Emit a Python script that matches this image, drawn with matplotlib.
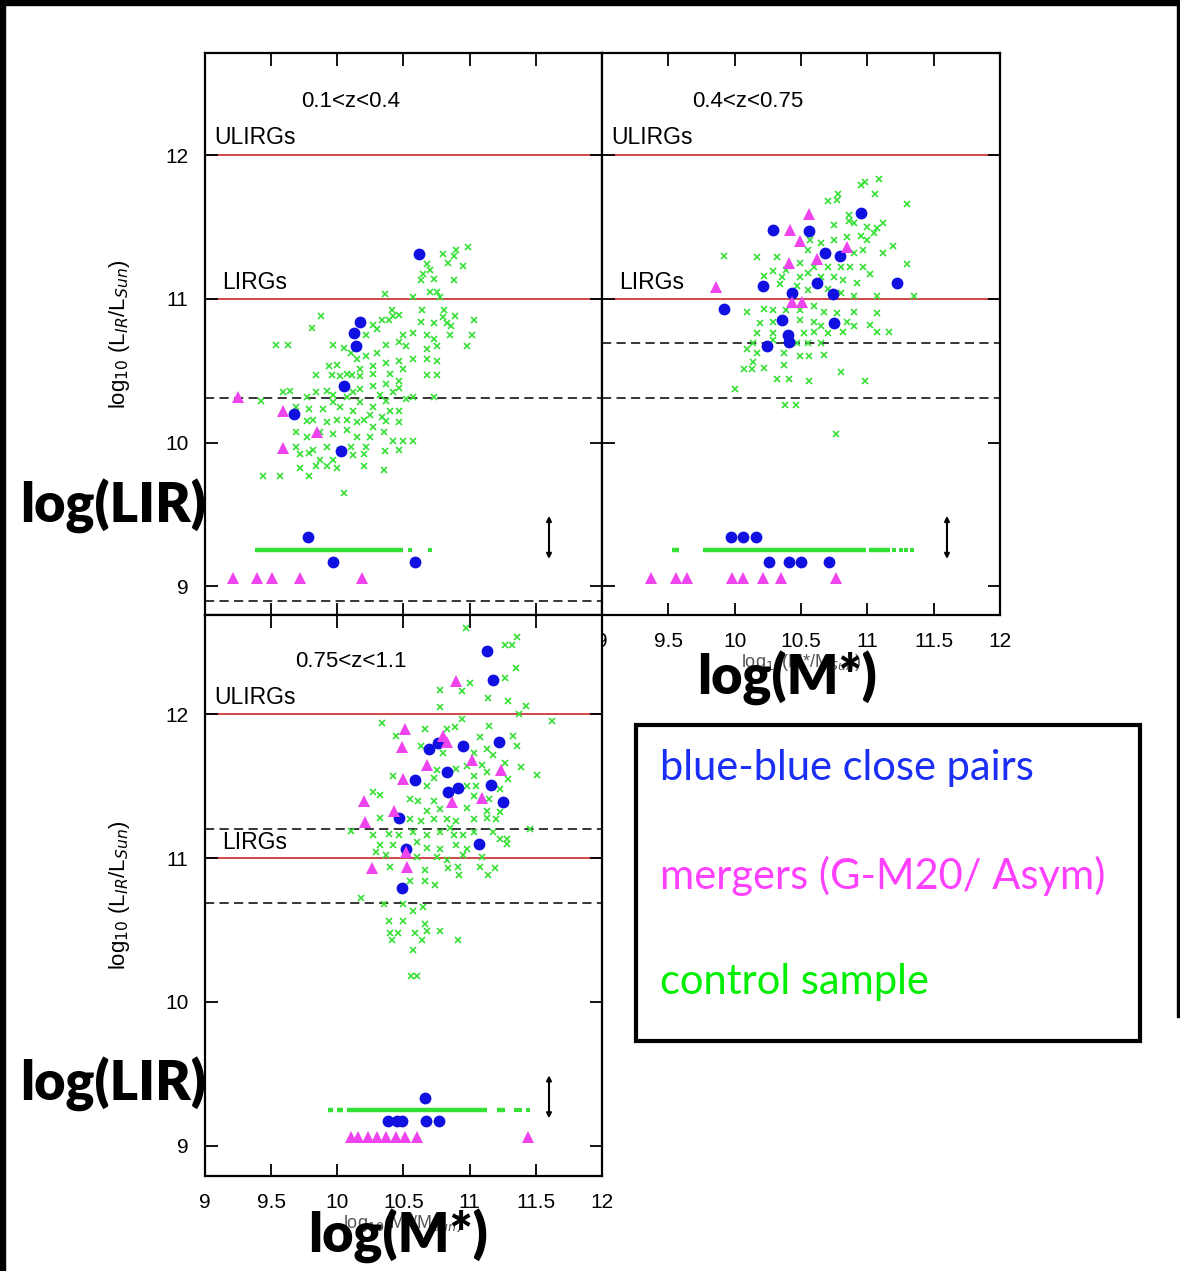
import matplotlib
matplotlib.use("Agg")
import matplotlib.pyplot as plt
from matplotlib.patches import Rectangle

plt.rcParams['font.family'] = ['Liberation Sans', 'DejaVu Sans']

GREEN = '#35e035'
BLUE = '#1010e0'
MAGENTA = '#ee44ee'
RED = '#d04848'

# ---- panel 1 : 0.1<z<0.4 ----
tl_green_x = [10.99, 10.90, 10.80, 10.88, 10.84, 10.95, 10.68, 10.70, 10.65, 10.63, 10.73, 10.88, 10.70, 10.75,
              10.78, 10.57, 10.36, 10.81, 10.64, 10.47, 10.41, 10.34, 10.27, 10.39, 10.42, 10.63, 10.73, 10.80,
              10.89, 11.03, 10.83, 10.86, 9.88, 9.81, 9.54, 9.63, 9.97, 10.05, 10.10, 10.22, 10.30, 10.50, 10.57,
              10.68, 10.73, 10.85, 11.02, 10.98, 10.75, 10.68, 10.52, 10.47, 10.37, 10.30, 10.22, 10.15, 10.00,
              9.94, 10.07, 10.17, 10.27, 10.37, 10.47, 10.57, 10.68, 10.75, 10.50, 10.40, 10.27, 10.17, 10.11,
              10.02, 9.96, 9.84, 10.68, 10.75, 10.47, 10.37, 10.27, 10.17, 10.12, 10.07, 9.97, 9.92, 9.84, 9.77,
              9.59, 9.64, 9.42, 10.32, 10.42, 10.47, 10.57, 10.73, 10.52, 10.37, 10.27, 10.17, 10.12, 10.02, 9.97,
              9.89, 9.79, 9.69, 10.40, 10.47, 10.34, 10.25, 10.20, 10.15, 10.07, 10.00, 9.92, 9.82, 9.77, 10.37,
              10.27, 10.47, 10.07, 9.97, 9.87, 9.77, 9.69, 10.15, 10.25, 10.35, 10.42, 10.50, 10.57, 10.22, 10.10,
              10.02, 9.92, 9.82, 9.69, 10.47, 10.36, 10.12, 10.20, 9.97, 9.87, 9.79, 9.72, 10.00, 9.92, 9.84, 9.72,
              9.79, 9.44, 9.57, 10.35, 10.20, 10.05]
tl_green_y = [11.36, 11.34, 11.31, 11.30, 11.25, 11.23, 11.24, 11.20, 11.17, 11.13, 11.14, 11.13, 11.05, 11.05,
              11.01, 11.01, 11.03, 10.92, 10.92, 10.89, 10.92, 10.85, 10.82, 10.85, 10.88, 10.84, 10.83, 10.87,
              10.88, 10.85, 10.83, 10.81, 10.88, 10.80, 10.68, 10.68, 10.68, 10.66, 10.62, 10.75, 10.79, 10.75,
              10.76, 10.75, 10.72, 10.75, 10.75, 10.67, 10.67, 10.65, 10.67, 10.70, 10.68, 10.62, 10.60, 10.58,
              10.54, 10.53, 10.48, 10.51, 10.53, 10.55, 10.57, 10.58, 10.58, 10.57, 10.51, 10.48, 10.48, 10.46,
              10.47, 10.46, 10.47, 10.47, 10.47, 10.47, 10.43, 10.41, 10.39, 10.37, 10.35, 10.32, 10.33, 10.36,
              10.35, 10.32, 10.35, 10.36, 10.29, 10.33, 10.35, 10.38, 10.32, 10.32, 10.30, 10.29, 10.25, 10.28,
              10.22, 10.25, 10.28, 10.23, 10.23, 10.25, 10.22, 10.22, 10.18, 10.19, 10.16, 10.14, 10.16, 10.16,
              10.14, 10.16, 10.15, 10.15, 10.11, 10.14, 10.09, 10.06, 10.07, 10.04, 10.07, 10.04, 10.04, 10.07,
              10.01, 10.01, 10.01, 9.97, 9.97, 9.95, 9.97, 9.95, 9.97, 9.95, 9.94, 9.91, 9.92, 9.88, 9.88, 9.93,
              9.92, 9.82, 9.84, 9.84, 9.82, 9.77, 9.77, 9.77, 9.81, 9.84, 9.65]
tl_blue_x = [10.62, 10.17, 10.13, 10.14, 10.05, 9.67, 10.03, 9.78, 9.97, 10.59]
tl_blue_y = [11.31, 10.84, 10.76, 10.67, 10.39, 10.20, 9.94, 9.34, 9.17, 9.17]
tl_mag_x = [9.25, 9.59, 9.85, 9.59, 9.21, 9.39, 9.51, 9.72, 10.19]
tl_mag_y = [10.32, 10.22, 10.07, 9.96, 9.06, 9.06, 9.06, 9.06, 9.06]
tl_lim_segments = [(9.38, 10.50)]
tl_lim_dots = [10.55, 10.70]
tl_dashed = [10.31, 8.90]

# ---- panel 2 : 0.4<z<0.75 ----
tr_green_x = [11.09, 10.98, 10.95, 11.06, 10.78, 10.77, 10.70, 11.30, 10.86, 10.90, 10.75, 10.86, 11.12, 11.00,
              11.07, 10.95, 10.85, 10.75, 10.65, 10.57, 11.00, 11.05, 11.19, 11.12, 10.97, 10.90, 10.55, 10.32,
              10.17, 9.92, 10.49, 10.60, 10.70, 10.80, 10.87, 10.97, 11.30, 10.39, 10.29, 10.22, 10.36, 10.49,
              10.55, 10.65, 10.75, 10.82, 10.92, 11.02, 10.34, 10.47, 10.55, 10.70, 10.80, 10.90, 11.07, 11.35,
              10.09, 10.22, 10.29, 10.39, 10.49, 10.60, 10.67, 10.77, 10.90, 11.07, 10.19, 10.29, 10.49, 10.60,
              10.65, 10.85, 10.90, 11.02, 11.07, 11.16, 10.17, 10.29, 10.52, 10.60, 10.70, 10.82, 10.14, 10.29,
              10.47, 10.55, 10.65, 10.09, 10.17, 10.37, 10.49, 10.56, 10.67, 10.14, 10.22, 10.07, 10.13, 10.37,
              10.80, 10.32, 10.41, 10.56, 10.98, 10.00, 10.38, 10.46, 10.76]
tr_green_y = [11.83, 11.81, 11.79, 11.73, 11.73, 11.69, 11.68, 11.66, 11.58, 11.53, 11.51, 11.54, 11.53, 11.50,
              11.49, 11.44, 11.43, 11.41, 11.39, 11.41, 11.41, 11.46, 11.37, 11.32, 11.34, 11.32, 11.34, 11.29,
              11.29, 11.30, 11.25, 11.22, 11.22, 11.22, 11.22, 11.22, 11.24, 11.20, 11.19, 11.16, 11.15, 11.15,
              11.18, 11.15, 11.15, 11.13, 11.11, 11.17, 11.10, 11.09, 11.06, 11.07, 11.04, 11.02, 11.02, 11.02,
              10.91, 10.93, 10.92, 10.92, 10.92, 10.95, 10.91, 10.90, 10.91, 10.90, 10.83, 10.84, 10.85, 10.84,
              10.81, 10.84, 10.81, 10.82, 10.77, 10.77, 10.76, 10.76, 10.76, 10.77, 10.76, 10.77, 10.69, 10.71,
              10.69, 10.69, 10.69, 10.65, 10.62, 10.62, 10.60, 10.60, 10.61, 10.56, 10.52, 10.51, 10.51, 10.54,
              10.49, 10.44, 10.44, 10.43, 10.43, 10.37, 10.26, 10.26, 10.06]
tr_blue_x = [10.95, 10.29, 10.56, 10.68, 10.79, 10.21, 10.62, 11.22, 10.43, 10.74, 9.92, 10.36, 10.75, 10.40,
             10.41, 10.24, 9.97, 10.06, 10.16, 10.26, 10.41, 10.50, 10.71]
tr_blue_y = [11.60, 11.48, 11.47, 11.32, 11.30, 11.09, 11.11, 11.11, 11.04, 11.03, 10.93, 10.85, 10.83, 10.75,
             10.70, 10.67, 9.34, 9.34, 9.34, 9.17, 9.17, 9.17, 9.17]
tr_mag_x = [10.56, 10.42, 10.49, 10.85, 10.62, 10.41, 9.86, 10.43, 10.51, 9.37, 9.56, 9.64, 9.98, 10.06, 10.21,
            10.35, 10.76]
tr_mag_y = [11.59, 11.48, 11.40, 11.36, 11.28, 11.25, 11.08, 10.98, 10.98, 9.06, 9.06, 9.06, 9.06, 9.06, 9.06,
            9.06, 9.06]
tr_lim_segments = [(9.53, 9.58), (9.76, 10.99), (11.01, 11.17)]
tr_lim_dots = [11.20, 11.25, 11.29, 11.34]
tr_dashed = [10.69, 10.31]

# ---- panel 3 : 0.75<z<1.1 ----
bl_green_x = [10.97, 11.36, 11.27, 11.32, 11.35, 11.27, 11.00, 10.78, 10.94, 11.14, 11.29, 11.43, 10.78, 11.37,
              10.94, 10.34, 11.62, 10.66, 10.83, 10.89, 11.15, 10.44, 11.08, 11.33, 11.36, 10.63, 10.80, 11.03,
              11.13, 11.18, 11.27, 11.39, 10.98, 11.09, 10.75, 10.90, 10.42, 10.73, 11.03, 11.13, 11.51, 10.68,
              10.98, 11.05, 11.23, 11.29, 10.27, 10.32, 10.55, 10.61, 10.73, 11.03, 11.15, 10.68, 10.78, 10.98,
              11.13, 11.23, 10.32, 10.55, 10.63, 10.73, 10.83, 10.90, 11.03, 11.13, 11.20, 10.10, 10.39, 10.47,
              10.57, 10.68, 10.78, 10.85, 10.88, 10.95, 11.03, 11.18, 11.28, 11.46, 10.27, 10.32, 10.42, 10.60,
              10.68, 10.78, 10.90, 10.98, 11.23, 11.28, 10.29, 10.37, 10.60, 10.75, 10.83, 10.95, 11.09, 10.40,
              10.66, 10.84, 10.91, 11.08, 11.19, 10.92, 11.14, 10.55, 10.66, 10.74, 10.18, 10.35, 10.50, 10.57,
              10.65, 10.39, 10.50, 10.66, 10.40, 10.46, 10.59, 10.68, 10.78, 10.41, 10.64, 10.91, 10.57, 10.56,
              10.60]
bl_green_y = [12.60, 12.54, 12.48, 12.48, 12.32, 12.25, 12.22, 12.17, 12.16, 12.11, 12.09, 12.06, 12.05, 12.00,
              11.97, 11.94, 11.95, 11.90, 11.90, 11.91, 11.92, 11.85, 11.84, 11.85, 11.78, 11.78, 11.73, 11.73,
              11.76, 11.72, 11.66, 11.63, 11.64, 11.65, 11.61, 11.62, 11.57, 11.56, 11.57, 11.60, 11.58, 11.50,
              11.50, 11.50, 11.48, 11.55, 11.46, 11.44, 11.41, 11.40, 11.40, 11.43, 11.41, 11.33, 11.34, 11.35,
              11.33, 11.32, 11.28, 11.27, 11.26, 11.27, 11.27, 11.26, 11.27, 11.28, 11.27, 11.19, 11.17, 11.16,
              11.18, 11.16, 11.18, 11.21, 11.16, 11.16, 11.18, 11.18, 11.13, 11.20, 11.16, 11.09, 11.09, 11.11,
              11.07, 11.06, 11.09, 11.06, 11.13, 11.10, 11.04, 11.02, 11.01, 11.01, 10.99, 11.02, 11.01, 10.94,
              10.92, 10.93, 10.94, 10.94, 10.93, 10.88, 10.88, 10.84, 10.84, 10.81, 10.72, 10.68, 10.68, 10.63,
              10.66, 10.56, 10.56, 10.54, 10.48, 10.48, 10.48, 10.49, 10.49, 10.43, 10.43, 10.43, 10.36, 10.18,
              10.18]
bl_blue_x = [11.13, 11.18, 11.22, 10.69, 10.76, 10.95, 10.83, 10.59, 10.91, 10.84, 11.16, 11.25, 10.47, 11.07,
             10.52, 10.49, 10.66, 10.38, 10.45, 10.49, 10.67, 10.77]
bl_blue_y = [12.44, 12.24, 11.81, 11.76, 11.80, 11.78, 11.60, 11.54, 11.49, 11.46, 11.51, 11.39, 11.28, 11.10,
             11.06, 10.79, 9.33, 9.17, 9.17, 9.17, 9.17, 9.17]
bl_mag_x = [10.90, 10.51, 10.49, 10.80, 10.83, 10.68, 11.02, 11.24, 10.50, 11.09, 10.87, 10.20, 10.43, 10.21,
            10.52, 10.26, 10.53, 10.10, 10.16, 10.23, 10.30, 10.37, 10.44, 10.51, 10.60, 11.44]
bl_mag_y = [12.23, 11.90, 11.77, 11.85, 11.81, 11.65, 11.68, 11.61, 11.55, 11.42, 11.39, 11.40, 11.33, 11.25,
            11.04, 10.93, 10.94, 9.06, 9.06, 9.06, 9.06, 9.06, 9.06, 9.06, 9.06, 9.06]
bl_lim_segments = [(9.93, 9.97), (10.00, 10.04), (10.07, 11.13), (11.21, 11.27)]
bl_lim_dots = [11.35, 11.38, 11.44]
bl_dashed = [11.20, 10.69]

lim_level = 9.25
err_bar = (9.19, 9.49)
x_ticks = [9, 9.5, 10, 10.5, 11, 11.5, 12]
x_ticklabels = ['9', '9.5', '10', '10.5', '11', '11.5', '12']
y_ticks = [9, 10, 11, 12]

fig = plt.figure(figsize=(11.8, 12.71), dpi=100)
ax1 = fig.add_axes([0.1737, 0.5161, 0.3364, 0.4422])
ax2 = fig.add_axes([0.5102, 0.5161, 0.3373, 0.4422])
ax3 = fig.add_axes([0.1737, 0.0748, 0.3364, 0.4413])


def panel(ax, gx, gy, bx, by, mx, my, segs, dots, dashed, title, ylim):
    ax.axhline(12, color=RED, lw=1.4, zorder=1)
    ax.axhline(11, color=RED, lw=1.4, zorder=1)
    for d in dashed:
        ax.axhline(d, color='k', lw=1.1, ls=(0, (6, 3.5)), zorder=1)
    ax.plot(gx, gy, 'x', color=GREEN, ms=4.5, mew=1.2, zorder=2)
    for s in segs:
        ax.plot(s, [lim_level, lim_level], color=GREEN, lw=3.2, solid_capstyle='butt', zorder=2)
    ax.plot(dots, [lim_level] * len(dots), 's', color=GREEN, ms=2.8, mew=0, zorder=2)
    ax.plot(bx, by, 'o', color=BLUE, ms=8.5, mew=0, zorder=3)
    ax.plot(mx, my, '^', color=MAGENTA, ms=9, mew=0, zorder=3)
    ax.annotate('', xy=(11.6, err_bar[1]), xytext=(11.6, err_bar[0]),
                arrowprops=dict(arrowstyle='<|-|>', color='k', lw=1.5, mutation_scale=7,
                                shrinkA=0, shrinkB=0))
    ax.text(10.1, 12.37, title, ha='center', va='center', fontsize=16)
    ax.text(9.07, 12.04, 'ULIRGs', ha='left', va='bottom', fontsize=16.5)
    ax.text(9.13, 11.03, 'LIRGs', ha='left', va='bottom', fontsize=16.5)
    ax.set_xlim(9, 12)
    ax.set_ylim(*ylim)
    ax.set_xticks(x_ticks)
    ax.set_xticklabels(x_ticklabels)
    ax.set_yticks(y_ticks)
    ax.tick_params(direction='in', length=9, width=1.3, top=True, right=True, labelsize=15)
    ax.tick_params(axis='y', pad=12)
    ax.tick_params(axis='x', pad=12)
    for sp in ax.spines.values():
        sp.set_linewidth(1.6)


panel(ax1, tl_green_x, tl_green_y, tl_blue_x, tl_blue_y, tl_mag_x, tl_mag_y,
      tl_lim_segments, tl_lim_dots, tl_dashed, '0.1<z<0.4', (8.80, 12.71))
panel(ax2, tr_green_x, tr_green_y, tr_blue_x, tr_blue_y, tr_mag_x, tr_mag_y,
      tr_lim_segments, tr_lim_dots, tr_dashed, '0.4<z<0.75', (8.80, 12.71))
panel(ax3, bl_green_x, bl_green_y, bl_blue_x, bl_blue_y, bl_mag_x, bl_mag_y,
      bl_lim_segments, bl_lim_dots, bl_dashed, '0.75<z<1.1', (8.79, 12.69))

ax1.tick_params(labelbottom=False)
ax2.tick_params(labelleft=False)

ylab = r'log$_{10}$ (L$_{IR}$/L$_{Sun}$)'
ax1.set_ylabel(ylab, fontsize=16, labelpad=24)
ax3.set_ylabel(ylab, fontsize=16, labelpad=24)
ax2.set_xlabel(r'log$_{10}$(M*/M$_{Sun}$)', fontsize=13, color='#555555', labelpad=1)
ax3.set_xlabel(r'log$_{10}$(M*/M$_{Sun}$)', fontsize=13, color='#555555', labelpad=1)

# big overlay labels
big = dict(fontsize=39, fontweight='heavy', family=['Lato', 'DejaVu Sans'], color='black')
fig.text(20 / 1180, 1 - 507 / 1271, 'log(LIR)', ha='left', va='center', **big)
fig.text(20 / 1180, 1 - 1085 / 1271, 'log(LIR)', ha='left', va='center', **big)
fig.text(787 / 1180, 1 - 678 / 1271, 'log(M*)', ha='center', va='center', **big)
fig.text(398 / 1180, 1 - 1236 / 1271, 'log(M*)', ha='center', va='center', **big)

# legend box
fig.patches.append(Rectangle((636 / 1180, 1 - 1041 / 1271), 504 / 1180, 316 / 1271,
                             transform=fig.transFigure, fill=False, ec='black', lw=3))
leg = dict(fontsize=30, family=['Lato', 'DejaVu Sans'], ha='left', va='center')
fig.text(660 / 1180, 1 - 768 / 1271, 'blue-blue close pairs', color='#1a2ef5', **leg)
fig.text(660 / 1180, 1 - 876 / 1271, 'mergers (G-M20/ Asym)', color='#ff40ff', **leg)
fig.text(660 / 1180, 1 - 982 / 1271, 'control sample', color='#00ee00', **leg)

# outer black frame
fig.patches.append(Rectangle((0, 0), 5 / 1180, 1, transform=fig.transFigure, color='black'))
fig.patches.append(Rectangle((0, 1 - 5 / 1271), 1, 5 / 1271, transform=fig.transFigure, color='black'))
fig.patches.append(Rectangle((1 - 3 / 1180, 0.2), 3 / 1180, 0.8, transform=fig.transFigure, color='black'))

fig.savefig('out.png', dpi=100)
